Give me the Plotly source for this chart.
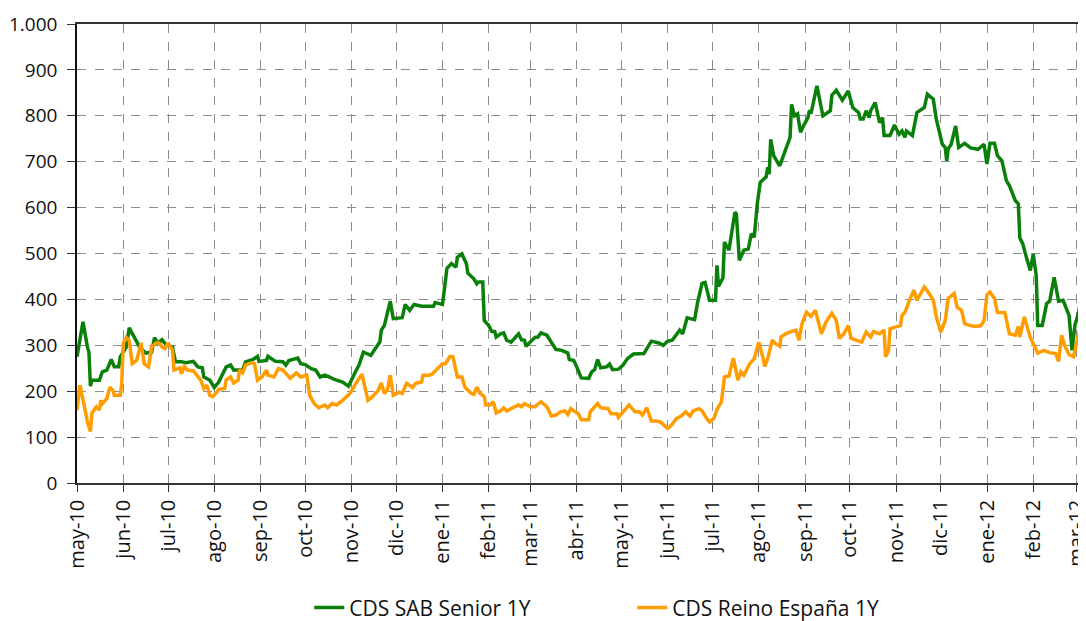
import pandas as pd
import plotly.graph_objects as go

sab_days = [0, 4, 7, 8, 9, 10, 15, 17, 20, 23, 25, 28, 29, 33, 35, 37, 42, 46, 50, 52, 54, 57, 60, 64, 66, 70, 73, 78,
            81, 84, 85, 89, 92, 95, 100, 103, 105, 111, 113, 118, 121, 122, 127, 128, 133, 138, 140, 142, 148, 150,
            153, 157, 160, 163, 166, 169, 173, 178, 182, 186, 189, 192, 197, 200, 203, 204, 206, 210, 212, 218, 220,
            223, 226, 231, 239, 240, 245, 248, 251, 254, 255, 258, 261, 262, 266, 268, 269, 272, 273, 276, 278, 280,
            281, 284, 286, 288, 291, 296, 298, 300, 301, 305, 307, 309, 311, 315, 318, 321, 325, 329, 330, 333, 335,
            338, 343, 345, 347, 349, 351, 355, 357, 359, 363, 366, 369, 373, 380, 382, 383, 385, 390, 393, 396, 399,
            404, 406, 409, 414, 416, 419, 421, 424, 428, 429, 430, 433, 434, 437, 441, 442, 444, 447, 450, 452, 454,
            456, 458, 462, 463, 464, 465, 467, 471, 473, 476, 478, 479, 481, 483, 485, 487, 490, 491, 492, 496, 500,
            505, 506, 509, 513, 517, 520, 524, 525, 527, 529, 531, 532, 535, 538, 540, 541, 545, 548, 551, 553, 555,
            556, 560, 563, 568, 570, 574, 576, 580, 582, 583, 584, 586, 589, 591, 595, 599, 604, 608, 610, 612, 615,
            617, 620, 623, 625, 629, 631, 632, 634, 636, 639, 641, 643, 644, 647, 650, 652, 655, 658, 661, 665, 667,
            669, 671, 673, 674]
sab_values = [275, 351, 296, 285, 211, 224, 224, 242, 246, 269, 253, 253, 275, 296, 338, 325, 296, 283, 285, 317, 304,
              312, 300, 296, 264, 264, 262, 265, 253, 251, 231, 224, 208, 220, 253, 257, 246, 246, 264, 269, 276, 265,
              267, 276, 265, 264, 257, 267, 272, 260, 258, 249, 246, 231, 235, 231, 225, 220, 211, 238, 257, 285, 278,
              293, 307, 333, 343, 396, 358, 360, 389, 376, 389, 385, 385, 393, 389, 468, 478, 470, 492, 499, 478, 457,
              445, 434, 438, 438, 354, 343, 330, 330, 318, 325, 327, 311, 307, 325, 312, 311, 298, 311, 317, 318, 327,
              322, 307, 291, 289, 283, 269, 267, 253, 229, 228, 242, 247, 269, 251, 253, 259, 247, 248, 257, 271, 281,
              282, 293, 298, 309, 305, 300, 309, 311, 333, 325, 360, 356, 393, 435, 437, 398, 398, 474, 428, 447, 525,
              507, 590, 586, 485, 507, 510, 543, 536, 608, 655, 667, 688, 673, 749, 713, 691, 709, 738, 753, 825, 800,
              804, 764, 778, 796, 812, 805, 865, 800, 811, 845, 856, 834, 854, 818, 807, 793, 793, 811, 796, 811, 829,
              785, 796, 757, 757, 780, 760, 767, 753, 767, 757, 807, 818, 847, 836, 793, 738, 731, 702, 728, 738, 778,
              731, 740, 730, 727, 738, 695, 740, 740, 713, 702, 659, 648, 615, 608, 534, 521, 496, 463, 499, 452, 343,
              343, 391, 396, 448, 396, 398, 365, 289, 345, 366, 399, 354]

esp_days = [0, 2, 5, 7, 9, 10, 13, 15, 16, 17, 20, 22, 24, 25, 29, 30, 31, 33, 35, 37, 40, 41, 43, 45, 48, 50, 53, 55,
            57, 59, 61, 64, 65, 69, 70, 72, 74, 78, 81, 83, 85, 87, 89, 91, 93, 95, 99, 100, 103, 105, 108, 109, 111,
            113, 117, 119, 121, 124, 127, 128, 132, 135, 138, 141, 143, 147, 150, 154, 156, 159, 162, 166, 168, 171,
            174, 178, 181, 183, 187, 191, 193, 195, 198, 202, 204, 206, 208, 210, 212, 216, 218, 221, 225, 227, 231,
            232, 236, 238, 241, 245, 247, 250, 252, 255, 258, 260, 264, 266, 268, 270, 273, 274, 277, 279, 281, 284,
            286, 288, 291, 296, 298, 300, 304, 307, 311, 315, 318, 321, 324, 327, 329, 331, 334, 336, 338, 343, 344,
            346, 349, 351, 356, 358, 362, 363, 366, 370, 374, 377, 379, 382, 385, 388, 391, 393, 396, 398, 402, 405,
            408, 411, 413, 417, 419, 422, 424, 427, 429, 432, 434, 437, 440, 443, 445, 447, 451, 454, 457, 460, 461,
            463, 466, 468, 471, 472, 475, 478, 482, 484, 486, 489, 492, 495, 499, 502, 506, 509, 511, 514, 517, 519,
            523, 526, 529, 532, 534, 538, 541, 542, 544, 545, 549, 552, 553, 555, 558, 561, 563, 568, 572, 574, 576,
            579, 582, 584, 588, 590, 593, 595, 599, 602, 606, 608, 610, 612, 615, 617, 622, 625, 629, 631, 632, 635,
            639, 641, 644, 648, 652, 656, 658, 660, 662, 665, 668, 669, 672, 674]
esp_values = [159, 213, 166, 133, 112, 152, 166, 159, 180, 173, 184, 209, 202, 191, 191, 217, 304, 317, 311, 260, 267,
              282, 305, 260, 253, 296, 305, 305, 296, 293, 305, 289, 246, 251, 238, 254, 246, 244, 233, 224, 206, 213,
              191, 188, 195, 204, 206, 225, 231, 218, 224, 247, 240, 257, 262, 260, 224, 231, 246, 235, 231, 249, 246,
              235, 228, 240, 231, 235, 191, 173, 164, 170, 164, 173, 170, 180, 188, 195, 217, 237, 209, 180, 188, 202,
              218, 195, 202, 235, 191, 198, 195, 217, 208, 217, 220, 235, 235, 237, 247, 260, 260, 276, 275, 231, 231,
              209, 196, 193, 209, 196, 188, 170, 170, 177, 153, 157, 164, 157, 162, 170, 166, 173, 166, 166, 177, 166,
              146, 148, 155, 157, 149, 162, 155, 151, 138, 138, 155, 162, 173, 164, 162, 151, 151, 143, 155, 170, 155,
              155, 148, 164, 135, 135, 133, 128, 119, 124, 141, 146, 155, 146, 157, 162, 157, 141, 133, 141, 160, 177,
              231, 233, 272, 224, 242, 235, 260, 271, 307, 271, 254, 271, 311, 304, 298, 318, 325, 329, 333, 311, 347,
              372, 363, 376, 325, 350, 370, 354, 315, 325, 343, 315, 311, 307, 329, 318, 330, 325, 333, 275, 289, 336,
              340, 343, 365, 372, 398, 420, 398, 427, 409, 398, 362, 329, 354, 402, 413, 383, 376, 347, 343, 341, 343,
              354, 410, 416, 402, 372, 371, 325, 322, 341, 318, 362, 317, 302, 283, 289, 284, 282, 265, 322, 300, 280,
              275, 289, 333, 336]

series_names = ["CDS SAB Senior 1Y", "CDS Reino España 1Y"]
series_colors = ["#0a800a", "#ff9c00"]

month_ticks = ["may-10", "jun-10", "jul-10", "ago-10", "sep-10", "oct-10", "nov-10", "dic-10", "ene-11", "feb-11",
               "mar-11", "abr-11", "may-11", "jun-11", "jul-11", "ago-11", "sep-11", "oct-11", "nov-11", "dic-11",
               "ene-12", "feb-12", "mar-12"]
y_ticks = [0, 100, 200, 300, 400, 500, 600, 700, 800, 900, 1000]

start = pd.Timestamp("2010-05-01")
sab_dates = start + pd.to_timedelta(sab_days, unit="D")
esp_dates = start + pd.to_timedelta(esp_days, unit="D")
tick_dates = pd.date_range("2010-05-01", periods=len(month_ticks), freq="MS")

fig = go.Figure()
fig.add_trace(go.Scatter(x=sab_dates, y=sab_values, mode="lines", name=series_names[0],
                         line=dict(color=series_colors[0], width=3.5)))
fig.add_trace(go.Scatter(x=esp_dates, y=esp_values, mode="lines", name=series_names[1],
                         line=dict(color=series_colors[1], width=3.5)))

font_family = "Open Sans, Noto Sans, sans-serif"
grid_color = "#8c8c8c"

# the page adds an 8px body margin, so the figure is sized to the visible area
fig.update_layout(
    width=1070, height=613,
    margin=dict(l=69, r=0, t=16, b=138, autoexpand=False),
    paper_bgcolor="white", plot_bgcolor="white",
    separators=",.",
    font=dict(family=font_family, size=20, color="#111111"),
    showlegend=True,
    legend=dict(orientation="h", x=0.232, xanchor="left", y=-0.272, yanchor="middle",
                font=dict(size=21, color="#111111"), entrywidth=278, entrywidthmode="pixels",
                bgcolor="rgba(0,0,0,0)"),
    xaxis=dict(
        type="date", automargin=False,
        range=[start, start + pd.Timedelta(days=671)],
        tickvals=tick_dates, ticktext=month_ticks, tickangle=-90,
        ticklabeloverflow="allow",
        showgrid=True, gridcolor=grid_color, griddash="dash", gridwidth=1,
        showline=True, linecolor="#333333", linewidth=1.5, mirror=True,
        ticks="outside", ticklen=7, tickcolor="#333333",
        tickfont=dict(size=20, color="#111111"),
        zeroline=False,
    ),
    yaxis=dict(
        range=[0, 1000], tickvals=y_ticks, tickformat=",d", automargin=False,
        showgrid=True, gridcolor=grid_color, griddash="dash", gridwidth=1,
        showline=True, linecolor="#111111", linewidth=1.5,
        ticks="outside", ticklen=8, tickcolor="#333333",
        tickfont=dict(size=19, color="#111111"),
        ticklabelstandoff=6,
        zeroline=False,
    ),
)

fig.write_html("out.html")
